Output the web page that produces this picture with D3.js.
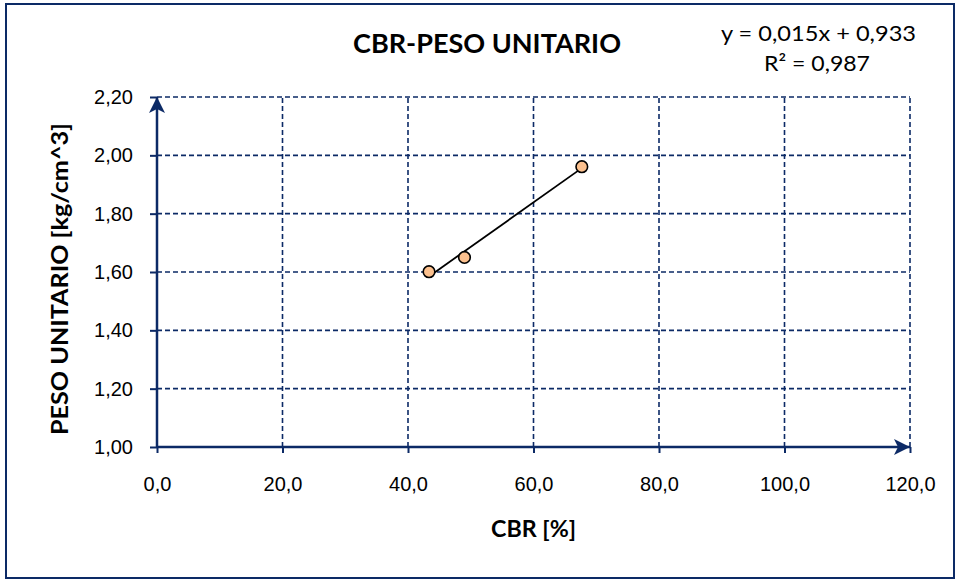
<!DOCTYPE html>
<html><head><meta charset="utf-8">
<script src="https://cdn.jsdelivr.net/npm/d3@7"></script>
<style>body{margin:0;background:#fff}svg{display:block}</style>
</head><body>
<svg id="c" width="960" height="580"></svg>
<script>
const title = "CBR-PESO UNITARIO";
const xTitle = "CBR [%]";
const yTitle = "PESO UNITARIO [kg/cm^3]";
const equationText = "y = 0,015x + 0,933";
const r2Text = "R² = 0,987";
const cbr = [43.35, 49.0, 67.7];
const peso = [1.601, 1.650, 1.961];
const xTicks = [0, 20, 40, 60, 80, 100, 120];
const yTicks = [1.0, 1.2, 1.4, 1.6, 1.8, 2.0, 2.2];

const navy = "#0c2a66";
const svg = d3.select("#c");
const loc = d3.formatLocale({decimal: ",", thousands: ".", grouping: [3], currency: ["", ""]});
const fx = loc.format(".1f"), fy = loc.format(".2f");

const x = d3.scaleLinear().domain([0, 120]).range([157, 910]);
const y = d3.scaleLinear().domain([1.0, 2.2]).range([447, 97]);

// outer border
svg.append("rect").attr("x", 6).attr("y", 4).attr("width", 948).attr("height", 574)
  .attr("fill", "#fff").attr("stroke", navy).attr("stroke-width", 2);

// gridlines
const g = svg.append("g");
g.selectAll(".gx").data(xTicks.filter(d => d > 0)).join("line")
  .attr("x1", d => x(d)).attr("x2", d => x(d)).attr("y1", y(1.0)).attr("y2", y(2.2))
  .attr("stroke", navy).attr("stroke-width", 1.6).attr("stroke-dasharray", "5,3");
g.selectAll(".gy").data(yTicks.filter(d => d > 1.0)).join("line")
  .attr("x1", x(0)).attr("x2", x(120)).attr("y1", d => y(d)).attr("y2", d => y(d))
  .attr("stroke", navy).attr("stroke-width", 1.6).attr("stroke-dasharray", "5,3");

// axes
const ax = svg.append("g").attr("transform", `translate(0,${y(1.0)})`)
  .call(d3.axisBottom(x).tickValues(xTicks).tickFormat(fx).tickSize(6).tickPadding(24));
const ay = svg.append("g").attr("transform", `translate(${x(0)},0)`)
  .call(d3.axisLeft(y).tickValues(yTicks).tickFormat(fy).tickSize(7).tickPadding(17));
[ax, ay].forEach(a => {
  a.select(".domain").remove();
  a.selectAll(".tick line").attr("stroke", navy).attr("stroke-width", 2);
  a.selectAll(".tick text").attr("fill", "#000").attr("font-family", "'Liberation Sans', Arial, sans-serif").attr("font-size", 20);
});

// arrow markers
const defs = svg.append("defs");
defs.append("marker").attr("id", "arr").attr("viewBox", "0 0 16 16").attr("refX", 16).attr("refY", 8)
  .attr("markerWidth", 16).attr("markerHeight", 16).attr("markerUnits", "userSpaceOnUse").attr("orient", "auto")
  .append("path").attr("d", "M0,0 L16,8 L0,16 L4,8 Z").attr("fill", navy);

svg.append("line").attr("x1", x(0)).attr("x2", x(120)).attr("y1", y(1.0)).attr("y2", y(1.0))
  .attr("stroke", navy).attr("stroke-width", 2.5).attr("marker-end", "url(#arr)");
svg.append("line").attr("x1", x(0)).attr("x2", x(0)).attr("y1", y(1.0)).attr("y2", y(2.2))
  .attr("stroke", navy).attr("stroke-width", 2.5).attr("marker-end", "url(#arr)");

// trendline (least squares from data)
const mx = d3.mean(cbr), my = d3.mean(peso);
const sxy = d3.sum(cbr, (v, i) => (v - mx) * (peso[i] - my));
const sxx = d3.sum(cbr, v => (v - mx) ** 2);
const slope = sxy / sxx, icpt = my - slope * mx;
const ext = d3.extent(cbr);
svg.append("path")
  .attr("d", d3.line().x(d => x(d)).y(d => y(slope * d + icpt))(ext))
  .attr("stroke", "#000").attr("stroke-width", 1.8).attr("fill", "none");

// points
svg.selectAll(".pt").data(cbr).join("circle")
  .attr("cx", d => x(d)).attr("cy", (d, i) => y(peso[i])).attr("r", 5.8)
  .attr("fill", "#fbc08e").attr("stroke", "#000").attr("stroke-width", 1.6);

// texts
const cal = "Lato, 'Open Sans', sans-serif";
function txt(s, xx, yy, size, bold, len, anchor) {
  return svg.append("text").attr("x", xx).attr("y", yy).attr("text-anchor", anchor || "middle")
    .attr("font-family", cal).attr("font-weight", bold ? "bold" : "normal").attr("font-size", size)
    .attr("fill", "#000").attr("textLength", len).attr("lengthAdjust", "spacingAndGlyphs").text(s);
}
txt(title, 487, 53, 27, true, 268);
txt(equationText, 818.5, 41, 22, false, 195);
txt(r2Text, 817, 71, 22, false, 106);
txt(xTitle, 533.5, 537, 22, true, 85);
txt(yTitle, 0, 0, 23, true, 312).attr("transform", "translate(68,279) rotate(-90)");
</script>
</body></html>
